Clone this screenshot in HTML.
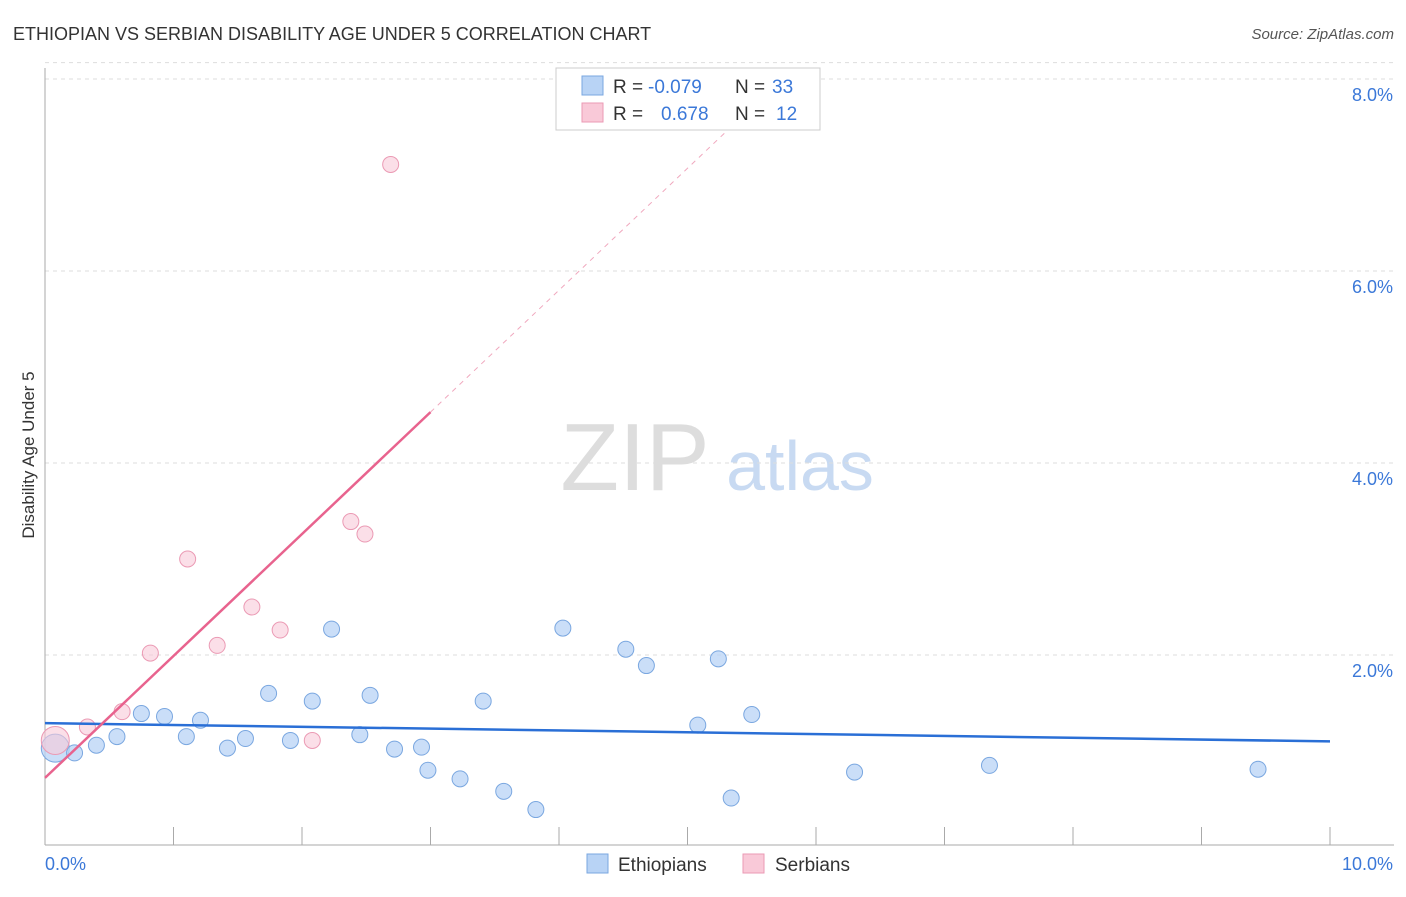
<!DOCTYPE html>
<html><head><meta charset="utf-8"><style>
body{margin:0;background:#fff;font-family:"Liberation Sans",sans-serif;}
svg text{font-family:"Liberation Sans",sans-serif;}
</style></head><body>
<svg id="chart" width="1406" height="892" xmlns="http://www.w3.org/2000/svg">
<text x="13" y="40" font-size="18" fill="#333">ETHIOPIAN VS SERBIAN DISABILITY AGE UNDER 5 CORRELATION CHART</text>
<text x="1394" y="39" font-size="15" fill="#555" font-style="italic" text-anchor="end">Source: ZipAtlas.com</text>
<g>
<text x="635" y="490" font-size="96" fill="#ddd" font-family="Liberation Serif, serif" text-anchor="middle">ZIP</text>
<text x="800" y="490" font-size="70" fill="#c8daf2" text-anchor="middle">atlas</text>
</g>
<g id="grid"></g>
<g id="axes"></g>
<g id="marks"></g>
<text transform="translate(34,455) rotate(-90)" font-size="17" fill="#333" text-anchor="middle">Disability Age Under 5</text>
<text x="45" y="870" font-size="18" fill="#3b78d8">0.0%</text>
<text x="1393" y="870" font-size="18" fill="#3b78d8" text-anchor="end">10.0%</text>
<g>
<rect x="556" y="68" width="264" height="62" fill="#fff" stroke="#ccc"/>
<rect x="582" y="76" width="21" height="19" fill="#b8d3f5" stroke="#7aa7e0"/>
<rect x="582" y="103" width="21" height="19" fill="#f9c9d8" stroke="#eb9ab4"/>
<text x="613" y="93" font-size="19" fill="#333">R =</text>
<text x="648" y="93" font-size="19" fill="#3b78d8">-0.079</text>
<text x="735" y="93" font-size="19" fill="#333">N =</text>
<text x="772" y="93" font-size="19" fill="#3b78d8">33</text>
<text x="613" y="120" font-size="19" fill="#333">R =</text>
<text x="661" y="120" font-size="19" fill="#3b78d8">0.678</text>
<text x="735" y="120" font-size="19" fill="#333">N =</text>
<text x="776" y="120" font-size="19" fill="#3b78d8">12</text>
</g>
<g>
<rect x="587" y="854" width="21" height="19" fill="#b8d3f5" stroke="#7aa7e0"/>
<text x="618" y="871" font-size="19" fill="#333">Ethiopians</text>
<rect x="743" y="854" width="21" height="19" fill="#f9c9d8" stroke="#eb9ab4"/>
<text x="775" y="871" font-size="19" fill="#333">Serbians</text>
</g>
</svg>
<script>
const yTicks=[2,4,6,8];
const yTickLabels=["2.0%","4.0%","6.0%","8.0%"];
const blueX=[0.08,0.23,0.40,0.56,0.75,0.93,1.10,1.21,1.42,1.56,1.74,1.91,2.08,2.23,2.45,2.53,2.72,2.93,2.98,3.23,3.41,3.57,3.82,4.03,4.52,4.68,5.08,5.24,5.34,5.50,6.30,7.35,9.44];
const blueY=[1.03,0.98,1.06,1.15,1.39,1.36,1.15,1.32,1.03,1.13,1.60,1.11,1.52,2.27,1.17,1.58,1.02,1.04,0.80,0.71,1.52,0.58,0.39,2.28,2.06,1.89,1.27,1.96,0.51,1.38,0.78,0.85,0.81];
const pinkX=[0.08,0.33,0.60,0.82,1.11,1.34,1.61,1.83,2.08,2.38,2.49,2.69];
const pinkY=[1.11,1.25,1.41,2.02,3.00,2.10,2.50,2.26,1.11,3.39,3.26,7.11];
const blueTrend=[1.29,1.10];
const pinkTrend=[0.72,1.27];
const NS="http://www.w3.org/2000/svg";
const X=v=>45+v*128.5, Y=v=>847-v*96;
function mk(p,t,a){const e=document.createElementNS(NS,t);for(const k in a)e.setAttribute(k,a[k]);document.getElementById(p).appendChild(e);return e;}
yTicks.forEach((t,i)=>{
 const l=mk('grid','line',{x1:45,x2:1394,y1:Y(t),y2:Y(t),stroke:'#ddd','stroke-dasharray':'4,4'});
 
 
 const tx=mk('grid','text',{x:1393,y:Y(t)+22,'font-size':18,fill:'#3b78d8','text-anchor':'end'});
 tx.textContent=yTickLabels[i];
 
 
});
const tg=mk('grid','line',{x1:45,x2:1394,y1:Y(8.17),y2:Y(8.17),stroke:'#ddd','stroke-dasharray':'4,4'});


const ya=mk('axes','line',{x1:45,x2:45,y1:68,y2:845,stroke:'#aaa'});


const xa=mk('axes','line',{x1:45,x2:1394,y1:845,y2:845,stroke:'#aaa'});


for(let i=0;i<=10;i++){
 const t=mk('axes','line',{x1:X(i),x2:X(i),y1:827,y2:845,stroke:'#aaa'});
 
 
}
blueX.forEach((x,i)=>{
 const c=mk('marks','circle',{cx:X(x),cy:Y(blueY[i]),r:i===0?14:8,fill:'#b8d3f5','fill-opacity':0.75,stroke:'#7aa7e0'});
 
 
});
pinkX.forEach((x,i)=>{
 const c=mk('marks','circle',{cx:X(x),cy:Y(pinkY[i]),r:i===0?14:8,fill:'#f9c9d8','fill-opacity':0.6,stroke:'#eb9ab4'});
 
 
});
const bt=mk('marks','line',{x1:X(0),y1:Y(blueTrend[0]),x2:X(10),y2:Y(blueTrend[1]),stroke:'#2a6fd6','stroke-width':2.5});


const pf=x=>pinkTrend[0]+pinkTrend[1]*x;
const ps=mk('marks','line',{x1:X(0),y1:Y(pf(0)),x2:X(3),y2:Y(pf(3)),stroke:'#e8638e','stroke-width':2.5});


const pd=mk('marks','line',{x1:X(3),y1:Y(pf(3)),x2:X(5.37),y2:Y(pf(5.37)),stroke:'#f0a8be','stroke-width':1,'stroke-dasharray':'5,5'});


</script>
</body></html>
